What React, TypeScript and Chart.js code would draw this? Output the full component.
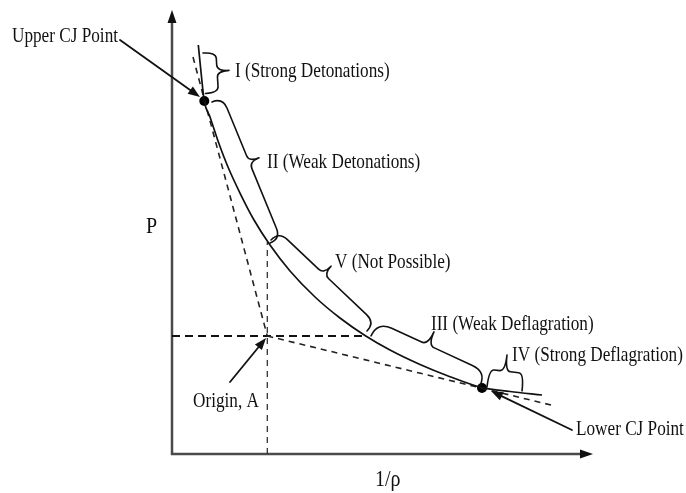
import { useEffect, useRef } from "react";
import { Chart, registerables } from "chart.js";

Chart.register(...registerables);

// Hugoniot curve (x = 1/rho, y = P), arbitrary units 0..100
const curveV = [6.25, 6.89, 7.67, 9.03, 10.93, 13.3, 16.15, 19.48, 23.28, 28.03, 33.97, 39.9, 45.84, 51.78, 58.91, 66.03, 73.63, 80.29, 87.89];
const curveP = [92.12, 86.04, 79.5, 75.9, 70.5, 64.64, 58.78, 52.7, 47.07, 41.22, 35.36, 30.63, 26.69, 23.42, 20.16, 17.41, 14.95, 14.08, 13.29];

// Rayleigh lines (tangents through origin A)
const upperTangentV = [4.99, 22.64];
const upperTangentP = [89.4, 26.58];
const lowerTangentV = [22.64, 90.97];
const lowerTangentP = [26.58, 10.81];

// reference lines through origin A
const horizRefV = [0, 45.84];
const horizRefP = [26.58, 26.58];
const vertRefV = [22.64, 22.64];
const vertRefP = [0, 47.75];

// CJ points
const cjV = [7.67, 73.63];
const cjP = [79.5, 14.86];

// braces: start, end, tip
const braceNames = ["I", "II", "V", "III", "IV"];
const braceStartV = [7.36, 9.5, 23.52, 47.27, 74.82];
const braceStartP = [90.3, 79.3, 48.2, 26.6, 15.1];
const braceEndV = [7.96, 23.28, 46.32, 73.16, 83.14];
const braceEndP = [81.2, 47.5, 27.7, 15.3, 14.2];
const braceTipV = [13.54, 20.67, 37.77, 62.23, 79.57];
const braceTipP = [86.4, 66.7, 42.3, 27.5, 22.3];

// arrows: from, to
const arrowFromV = [-12.35, 13.78, 95.01];
const arrowFromP = [93.24, 16.22, 5.41];
const arrowToV = [6.65, 22.33, 75.77];
const arrowToP = [80.4, 26.13, 14.19];

// labels (baseline start)
const labelText = [
  "Upper CJ Point",
  "I (Strong Detonations)",
  "II (Weak Detonations)",
  "V (Not Possible)",
  "III (Weak Deflagration)",
  "IV (Strong Deflagration)",
  "Origin, A",
  "Lower CJ Point",
  "P",
  "1/\u03c1",
];
const labelV = [-38.0, 14.96, 22.57, 38.72, 61.5, 80.76, 4.99, 95.96, -6.18, 48.2];
const labelP = [92.7, 84.9, 64.5, 41.9, 27.9, 20.9, 10.6, 4.2, 49.8, -7.2];
const labelSize = [17.2, 17.2, 17.2, 17.2, 17.2, 17.2, 17.2, 17.2, 20, 20];

const toXY = (v: number[], p: number[]) => v.map((x, i) => ({ x, y: p[i] }));

function drawBrace(ctx: CanvasRenderingContext2D, A: number[], B: number[], T: number[], armFrac: number) {
  const dx = B[0] - A[0];
  const dy = B[1] - A[1];
  const L = Math.hypot(dx, dy);
  const t = [dx / L, dy / L];
  let n = [-t[1], t[0]];
  const rel = [T[0] - A[0], T[1] - A[1]];
  let dn = rel[0] * n[0] + rel[1] * n[1];
  if (dn < 0) {
    n = [-n[0], -n[1]];
    dn = -dn;
  }
  const dt = rel[0] * t[0] + rel[1] * t[1];
  const a = dn * armFrac;
  const c = Math.min(a, L * 0.15);
  const c2 = Math.min(c, dn - a, 7);
  const P = (s: number, k: number) => [A[0] + t[0] * s + n[0] * k, A[1] + t[1] * s + n[1] * k];
  const pts = {
    p0: P(0, 0),
    k1: P(0, a),
    p1: P(c, a),
    p2: P(dt - c2, a),
    k2: P(dt, a),
    tip: P(dt, dn),
    p3: P(dt + c2, a),
    p4: P(L - c, a),
    k3: P(L, a),
    p5: P(L, 0),
  };
  ctx.beginPath();
  ctx.moveTo(pts.p0[0], pts.p0[1]);
  ctx.quadraticCurveTo(pts.k1[0], pts.k1[1], pts.p1[0], pts.p1[1]);
  ctx.lineTo(pts.p2[0], pts.p2[1]);
  ctx.quadraticCurveTo(pts.k2[0], pts.k2[1], pts.tip[0], pts.tip[1]);
  ctx.quadraticCurveTo(pts.k2[0], pts.k2[1], pts.p3[0], pts.p3[1]);
  ctx.lineTo(pts.p4[0], pts.p4[1]);
  ctx.quadraticCurveTo(pts.k3[0], pts.k3[1], pts.p5[0], pts.p5[1]);
  ctx.stroke();
}

function drawArrow(ctx: CanvasRenderingContext2D, F: number[], T: number[], headLen: number, headW: number, width: number) {
  const dx = T[0] - F[0];
  const dy = T[1] - F[1];
  const L = Math.hypot(dx, dy);
  const u = [dx / L, dy / L];
  const nrm = [-u[1], u[0]];
  const base = [T[0] - u[0] * headLen, T[1] - u[1] * headLen];
  ctx.lineWidth = width;
  ctx.beginPath();
  ctx.moveTo(F[0], F[1]);
  ctx.lineTo(base[0] + u[0] * 2, base[1] + u[1] * 2);
  ctx.stroke();
  ctx.beginPath();
  ctx.moveTo(T[0], T[1]);
  ctx.lineTo(base[0] + nrm[0] * headW, base[1] + nrm[1] * headW);
  ctx.lineTo(base[0] - nrm[0] * headW, base[1] - nrm[1] * headW);
  ctx.closePath();
  ctx.fill();
}

const diagramPlugin = {
  id: "hugoniotDiagram",
  beforeDatasetsDraw(chart: any) {
    const ctx: CanvasRenderingContext2D = chart.ctx;
    const { left, right, top, bottom } = chart.chartArea;
    ctx.save();
    ctx.strokeStyle = "#4a4a4a";
    ctx.fillStyle = "#111";
    ctx.lineWidth = 2.5;
    ctx.beginPath();
    ctx.moveTo(left, bottom + 1);
    ctx.lineTo(left, top + 8);
    ctx.stroke();
    ctx.beginPath();
    ctx.moveTo(left - 1, bottom);
    ctx.lineTo(right - 8, bottom);
    ctx.stroke();
    // arrow heads
    ctx.beginPath();
    ctx.moveTo(left, top);
    ctx.lineTo(left - 4.5, top + 13);
    ctx.lineTo(left + 4.5, top + 13);
    ctx.closePath();
    ctx.fill();
    ctx.beginPath();
    ctx.moveTo(right, bottom);
    ctx.lineTo(right - 13, bottom - 4.5);
    ctx.lineTo(right - 13, bottom + 4.5);
    ctx.closePath();
    ctx.fill();
    ctx.restore();
  },
  afterDatasetsDraw(chart: any) {
    const ctx: CanvasRenderingContext2D = chart.ctx;
    const xs = chart.scales.x;
    const ys = chart.scales.y;
    const px = (v: number, p: number) => [xs.getPixelForValue(v), ys.getPixelForValue(p)];
    ctx.save();
    ctx.strokeStyle = "#111";
    ctx.fillStyle = "#111";
    ctx.lineWidth = 1.6;
    ctx.lineJoin = "round";
    ctx.lineCap = "round";
    braceNames.forEach((_, i) => {
      drawBrace(
        ctx,
        px(braceStartV[i], braceStartP[i]),
        px(braceEndV[i], braceEndP[i]),
        px(braceTipV[i], braceTipP[i]),
        0.52
      );
    });
    arrowFromV.forEach((_, i) => {
      drawArrow(ctx, px(arrowFromV[i], arrowFromP[i]), px(arrowToV[i], arrowToP[i]), 12, 4.5, 1.8);
    });
    ctx.textAlign = "left";
    ctx.textBaseline = "alphabetic";
    labelText.forEach((txt, i) => {
      const [x, y] = px(labelV[i], labelP[i]);
      ctx.save();
      ctx.translate(x, y);
      ctx.scale(1, 1.2);
      ctx.font = `${labelSize[i]}px "Liberation Serif", "Times New Roman", serif`;
      ctx.fillStyle = "#111";
      ctx.fillText(txt, 0, 0);
      ctx.restore();
    });
    ctx.restore();
  },
};

export default function App() {
  const canvasRef = useRef<HTMLCanvasElement | null>(null);

  useEffect(() => {
    const canvas = canvasRef.current;
    if (!canvas) return;
    const chart = new Chart(canvas, {
      type: "scatter",
      data: {
        datasets: [
          {
            data: toXY(curveV, curveP),
            showLine: true,
            borderColor: "#111",
            borderWidth: 1.7,
            pointRadius: 0,
            cubicInterpolationMode: "monotone",
          },
          {
            data: toXY(upperTangentV, upperTangentP),
            showLine: true,
            borderColor: "#222",
            borderWidth: 1.6,
            borderDash: [6, 5],
            pointRadius: 0,
          },
          {
            data: toXY(lowerTangentV, lowerTangentP),
            showLine: true,
            borderColor: "#222",
            borderWidth: 1.6,
            borderDash: [6, 5],
            pointRadius: 0,
          },
          {
            data: toXY(horizRefV, horizRefP),
            showLine: true,
            borderColor: "#111",
            borderWidth: 2.2,
            borderDash: [8, 5],
            pointRadius: 0,
          },
          {
            data: toXY(vertRefV, vertRefP),
            showLine: true,
            borderColor: "#333",
            borderWidth: 1.3,
            borderDash: [6, 5],
            pointRadius: 0,
          },
          {
            data: toXY(cjV, cjP),
            showLine: false,
            pointRadius: 5,
            pointBackgroundColor: "#000",
            pointBorderColor: "#000",
            pointBorderWidth: 0,
          },
        ],
      },
      options: {
        responsive: false,
        animation: false,
        events: [],
        layout: { padding: { left: 172, right: 93, top: 10, bottom: 39 } },
        plugins: {
          legend: { display: false },
          title: { display: false },
          tooltip: { enabled: false },
        },
        scales: {
          x: { type: "linear", min: 0, max: 100, display: false },
          y: { type: "linear", min: 0, max: 100, display: false },
        },
      },
      plugins: [diagramPlugin],
    });
    return () => chart.destroy();
  }, []);

  return (
    <div style={{ position: "absolute", left: 0, top: 0, width: 686, height: 493, background: "#fff" }}>
      <canvas ref={canvasRef} width={686} height={493} />
    </div>
  );
}
